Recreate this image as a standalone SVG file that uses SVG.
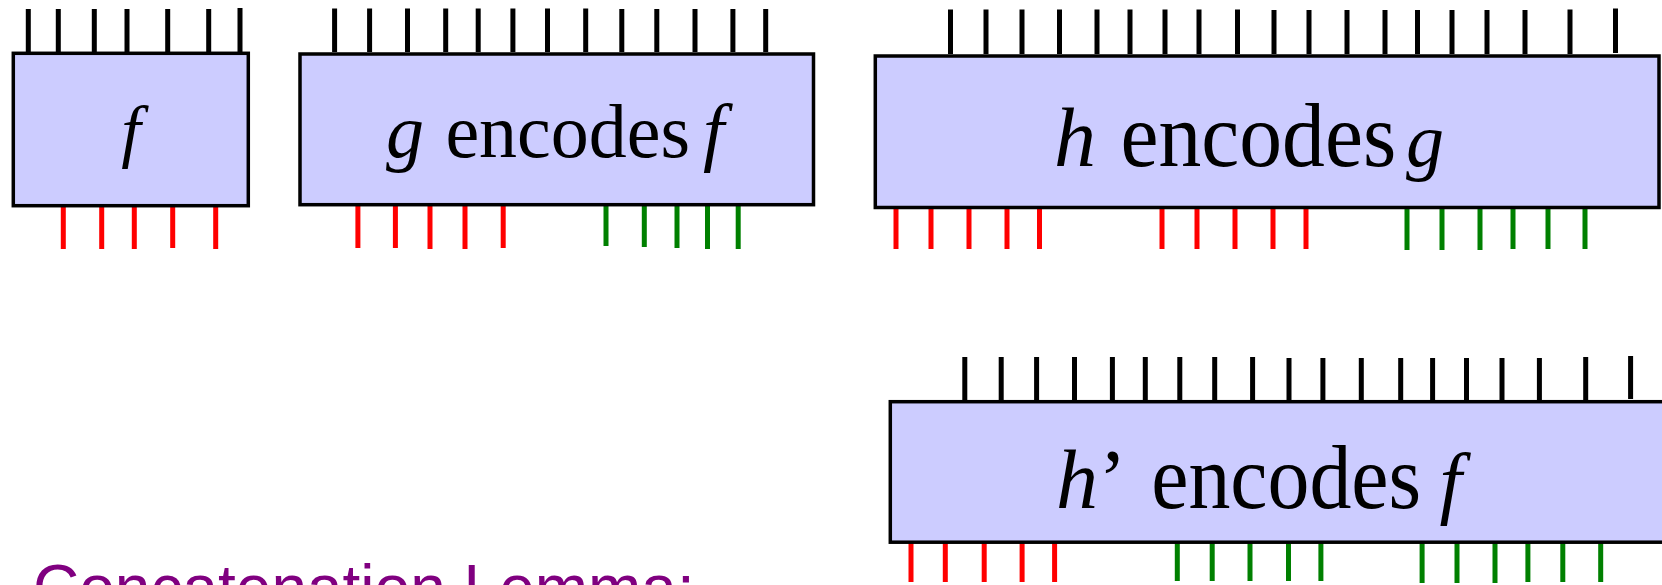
<svg xmlns="http://www.w3.org/2000/svg" width="1662" height="585" viewBox="0 0 1662 585">
<style>
.box{fill:#CCCCFF;stroke:#000;stroke-width:3.5}
.pin{stroke-width:5;fill:none}
.pk{stroke:#000}
.pr{stroke:#FF0000}
.pg{stroke:#008000}
.t{font-family:"Liberation Serif","Times New Roman",serif;fill:#000}
.i{font-style:italic}
.lem{font-family:"Liberation Sans",Arial,sans-serif;font-size:64px;fill:#800080}
</style>
<rect width="1662" height="585" fill="#FFFFFF"/>
<g id="node-f">
<path class="pin pk" d="M28.3 9V52M58.3 9V52M94.3 9V52M127 9V52M167.7 9V52M208.7 9V52M240 8V52"/>
<path class="pin pr" d="M63.3 206V249M101.7 206V249M134.3 206V249M172.7 206V248M215.7 206V249"/>
<rect class="box" x="13.3" y="53.3" width="235" height="152.4"/>
<text class="t i" x="121.3" y="154" font-size="70">f</text>
</g>
<g id="node-g">
<path class="pin pk" d="M334.6 8.5V52M369.6 8.5V52M407.5 8.5V52M445.7 8.5V52M478.2 8.5V52M512.9 8.5V52M547.5 8.5V52M585.7 8.5V52M621.8 9V52M656.8 9V52M695 9V52M732.9 9V52M765.7 9V52"/>
<path class="pin pr" d="M357.9 205V248M395.4 205V248M430 205V249M465 205V249M503.2 205V248"/>
<path class="pin pg" d="M606 203V246M644.3 203V247M677 203V248M707.5 204V249M738.2 204V249"/>
<rect class="box" x="300" y="54" width="513.5" height="150.7"/>
<text class="t i" x="386" y="157" font-size="76">g</text>
<text class="t" x="445.4" y="157" font-size="76">encodes</text>
<text class="t i" x="703" y="157" font-size="76">f</text>
</g>
<g id="node-h">
<path class="pin pk" d="M950.5 9.5V54M986 9.5V54M1022 9.5V54M1059.5 9.5V54M1097 9.5V54M1130 9.5V54M1165 9.5V54M1199 9.5V54M1237.5 9.5V54M1274 10V54M1309 10V54M1347 10V54M1385 10V54M1417.5 10V54M1452 10V54M1487 10V54M1525 10V54M1570 9.5V54M1615.5 8.5V53"/>
<path class="pin pr" d="M896 207V249M931 207V249M969 207V249M1007 207V249M1039.5 207V249M1162 207V249M1197 207V249M1235 207V249M1273 207V249M1306 207V249"/>
<path class="pin pg" d="M1407 207V250M1442 207V250M1480 207V250M1513 207V249M1548 207V249M1585 207V249"/>
<rect class="box" x="875.3" y="56" width="783.7" height="151.5"/>
<text class="t i" x="1054" y="166" font-size="84">h</text>
<text class="t" x="1120.6" y="166" font-size="90" textLength="275.6" lengthAdjust="spacingAndGlyphs">encodes</text>
<text class="t i" x="1406" y="166" font-size="76">g</text>
</g>
<g id="node-hprime">
<path class="pin pk" d="M964.8 357V400M1001.2 357V400M1036.6 357V400M1074.5 357V400M1112.4 357V400M1145.3 357V400M1179.8 357V400M1214.7 357V400M1252.6 357V400M1289 358V400M1322.9 358V400M1361.3 358V400M1400.7 358V400M1432.6 358V400M1466.5 358V400M1502 358V400M1539.4 358V400M1585.7 357V400M1630.6 356V399"/>
<path class="pin pr" d="M911 543V582M945.3 543V582M984.2 543V582M1022.1 543V582M1054.6 543V582"/>
<path class="pin pg" d="M1177.3 543V581M1212.2 543V581M1250 543V581M1288.5 543V581M1320.9 543V581M1422.1 543V583M1457 543V583M1495 543V583M1527.9 543V582M1562.8 543V582M1600.7 543V582"/>
<rect class="box" x="890.3" y="401.7" width="800" height="140.5"/>
<text class="t i" x="1056" y="507.5" font-size="84">h</text>
<text class="t" x="1098.4" y="507.5" font-size="84">’</text>
<text class="t" x="1151.2" y="507.5" font-size="90" textLength="270" lengthAdjust="spacingAndGlyphs">encodes</text>
<text class="t i" x="1439.6" y="509" font-size="80">f</text>
</g>
<g id="connectors"></g>
<g id="caption">
<text class="lem" x="33" y="610">Concatenation Lemma:</text>
</g>
</svg>
